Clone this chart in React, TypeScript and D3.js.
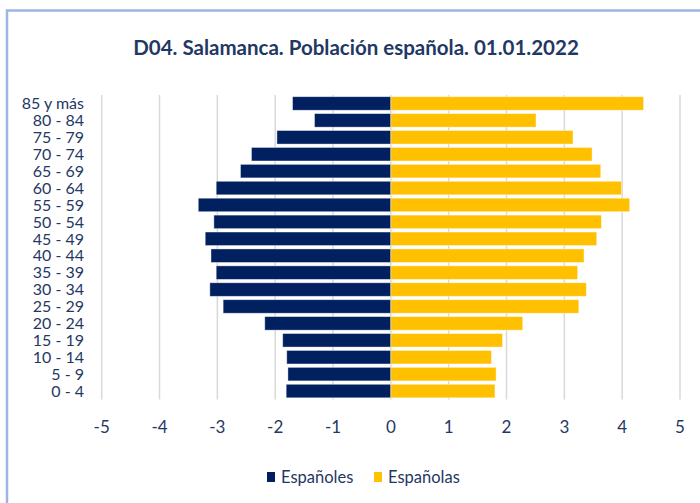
import React from "react";
import * as d3 from "d3";

const categories = ["85 y más","80 - 84","75 - 79","70 - 74","65 - 69","60 - 64","55 - 59","50 - 54","45 - 49","40 - 44","35 - 39","30 - 34","25 - 29","20 - 24","15 - 19","10 - 14","5 - 9","0 - 4"];
const espanoles = [-1.70,-1.32,-1.97,-2.41,-2.60,-3.02,-3.33,-3.06,-3.21,-3.11,-3.02,-3.13,-2.90,-2.18,-1.87,-1.80,-1.78,-1.81];
const espanolas = [4.37,2.51,3.15,3.48,3.63,3.99,4.13,3.64,3.56,3.34,3.23,3.38,3.25,2.28,1.93,1.74,1.82,1.80];
const xTicks = [-5,-4,-3,-2,-1,0,1,2,3,4,5];
const title = "D04. Salamanca. Población española. 01.01.2022";
const seriesNames = ["Españoles","Españolas"];

const NAVY = "#002060";
const YELLOW = "#FFC000";
const TEXT = "#1F3864";
const FONT = "Lato, 'Noto Sans', sans-serif";

export default function App() {
  const x = d3.scaleLinear().domain([-5, 5]).range([101.7, 680]);
  const y = d3.scaleBand().domain(categories).range([95, 399.5]).paddingInner(0.2).paddingOuter(0.1);
  const top = 95, bottom = 399.5;
  return (
    <svg width={700} height={503} style={{ position: "absolute", left: 0, top: 0, background: "#fff" }} fontFamily={FONT}>
      <rect x={0} y={0} width={700} height={503} fill="#fff" />
      <rect x={7} y={10.5} width={760} height={560} fill="none" stroke="#9DB5E2" strokeWidth={2.5} />
      <text x={356} y={55} textAnchor="middle" fontSize={20.5} fontWeight="bold" fill={TEXT}>{title}</text>
      {xTicks.map(t => (
        <line key={"g" + t} x1={x(t)} x2={x(t)} y1={top} y2={bottom} stroke="#D9D9D9" strokeWidth={1.5} />
      ))}
      {categories.map((c, i) => (
        <g key={c}>
          <rect x={x(espanoles[i])} y={y(c)} width={x(0) - x(espanoles[i])} height={y.bandwidth()} fill={NAVY} stroke="#ffffff" strokeOpacity={0.5} strokeWidth={0.8} />
          <rect x={x(0)} y={y(c)} width={x(espanolas[i]) - x(0)} height={y.bandwidth()} fill={YELLOW} stroke="#ffffff" strokeOpacity={0.5} strokeWidth={0.8} />
          <text x={84} y={(y(c) as number) + y.bandwidth() / 2} dy="0.36em" textAnchor="end" fontSize={16} fill={TEXT}>{c}</text>
        </g>
      ))}
      {xTicks.map(t => (
        <text key={"t" + t} x={x(t)} y={427} dy="0.36em" textAnchor="middle" fontSize={17} fill={TEXT}>{t}</text>
      ))}
      <g>
        <rect x={267} y={472} width={8} height={10} fill={NAVY} />
        <text x={281} y={477} dy="0.36em" fontSize={16.5} fill={TEXT}>{seriesNames[0]}</text>
        <rect x={374} y={472} width={8} height={10} fill={YELLOW} />
        <text x={388} y={477} dy="0.36em" fontSize={16.5} fill={TEXT}>{seriesNames[1]}</text>
      </g>
    </svg>
  );
}
